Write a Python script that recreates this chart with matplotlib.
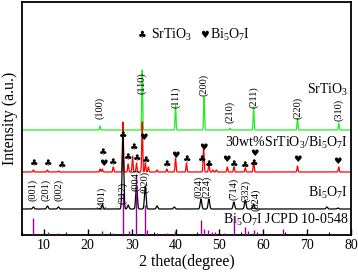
import numpy as np
import matplotlib
matplotlib.use("Agg")
import matplotlib.pyplot as plt

plt.rcParams['font.family'] = ['Liberation Serif', 'DejaVu Sans']
plt.rcParams['mathtext.fontset'] = 'custom'
plt.rcParams['mathtext.rm'] = 'Liberation Serif'
plt.rcParams['mathtext.it'] = 'Liberation Serif:italic'

# SrTiO3 pattern (green)
sto_pos = [22.8, 32.4, 40.0, 46.5, 52.4, 57.8, 67.8, 77.2]
sto_int = [4, 60, 25, 33, 2, 23, 12, 7]
sto_hkl = ['(100)', '(110)', '(111)', '(200)', '(210)', '(211)', '(220)', '(310)']
sto_lab_y = [127, 152, 138, 150, 123, 138, 127, 125]

# 30wt% SrTiO3/Bi5O7I pattern (red)
comp_pos = [7.6, 10.8, 13.3, 22.8, 23.3, 25.8, 28.0, 29.2, 30.2, 31.1, 32.4, 33.1,
            33.8, 35.8, 38.0, 40.0, 42.5, 46.4, 47.6, 48.5, 49.3, 51.8, 53.3, 55.9,
            57.8, 67.8, 77.2]
comp_int = [2, 2, 1, 3, 3, 5, 50, 8, 16, 9, 50, 9,
            5, 2, 3, 14, 9, 25, 8, 2, 2, 5, 5, 4,
            10, 6, 5]

# Bi5O7I pattern (black)
bi_pos = [7.6, 10.8, 13.3, 23.3, 28.0, 29.2, 31.1, 33.1, 35.8, 39.7, 45.8, 47.6,
          53.3, 55.9, 57.8, 74.5, 77.0]
bi_int = [2, 3, 2, 4, 72, 4, 23, 23, 3, 2, 10, 10,
          7, 9, 5, 2, 1]
bi_hkl = ['(001)', '(201)', '(002)', '(401)', '(312)', '(004)', '(020)',
          '(024)', '(224)', '(714)', '(332)', '(624)']
bi_lab_x = [7.5, 10.3, 13.3, 23.1, 28.0, 31.0, 33.0, 45.3, 47.2, 53.2, 55.9, 58.2]
bi_lab_y = [45, 45, 45, 37, 42, 55, 53, 48, 48, 46, 44, 35]

# JCPDS 10-0548 sticks (purple)
ref_pos = [7.6, 10.9, 13.3, 15.3, 23.3, 25.8, 28.1, 29.3, 31.1, 33.1, 33.6, 35.8,
           38.0, 39.8, 45.8, 46.6, 47.5, 48.3, 49.0, 51.0, 53.4, 55.8, 56.6, 57.8,
           58.6, 64.6]
ref_int = [17, 3, 2, 1, 4, 2, 42, 4, 60, 30, 5, 2,
           2, 4, 15, 6, 5, 3, 3, 2, 18, 8, 4, 5,
           3, 6]

# phase markers on the composite pattern
mark_sym = ['c', 'c', 'c', 'c', 'h', 'c', 'c', 'c', 'c', 'c', 'h', 'c', 'c', 'h',
            'c', 'h', 'c', 'c', 'h', 'c', 'c', 'h', 'c', 'h', 'h']
mark_x = [7.7, 10.9, 14.1, 23.5, 23.5, 25.7, 28.0, 29.2, 30.5, 31.2, 32.6, 33.3,
          38.1, 39.9, 42.6, 46.3, 46.0, 47.6, 51.6, 53.3, 55.8, 57.9, 58.0, 67.7, 76.8]
mark_y = [71, 71, 69, 82, 71, 72, 99, 77, 87, 76, 98, 74,
          70, 79, 75, 88, 75, 70, 76, 70, 69, 81, 71, 76, 73]

offsets = {'sto': 105, 'comp': 63, 'bi': 26}

x = np.linspace(5, 80, 4000)


def pattern(pos, inten, width):
    y = np.zeros_like(x)
    for p, h in zip(pos, inten):
        y += h * np.exp(-0.5 * ((x - p) / width) ** 2)
    return y


fig = plt.figure(figsize=(3.58, 2.77), dpi=100)
ax = fig.add_axes([22 / 358, 42 / 277, 329 / 358, 233 / 277])

ax.plot(x, offsets['sto'] + pattern(sto_pos, sto_int, 0.1), color='#22ee22', lw=0.9, zorder=1)
ax.plot(x, offsets['comp'] + pattern(comp_pos, comp_int, 0.11), color='#ff0000', lw=0.9, zorder=2)
ax.plot(x, offsets['bi'] + pattern(bi_pos, bi_int, 0.18), color='black', lw=0.9, zorder=3)
ax.vlines(ref_pos, 0, ref_int, color='#990099', lw=1.0, zorder=4)

for p, lab, ly in zip(sto_pos, sto_hkl, sto_lab_y):
    ax.text(p, ly, lab, rotation=90, ha='center', va='center', fontsize=7.5, zorder=5)
for lx, lab, ly in zip(bi_lab_x, bi_hkl, bi_lab_y):
    ax.text(lx, ly, lab, rotation=90, ha='center', va='center', fontsize=7.5, zorder=5)

sym = {'c': '\u2663', 'h': '\u2665'}
for s, mx, my in zip(mark_sym, mark_x, mark_y):
    ax.text(mx, my, sym[s], ha='center', va='center', fontsize=6.8,
            family=['DejaVu Sans'], zorder=6)

# legend
ax.text(32.3, 200, sym['c'], ha='center', va='center', fontsize=7, family=['DejaVu Sans'])
ax.text(34.3, 200, 'SrTiO$_3$', ha='left', va='center', fontsize=10)
ax.text(46.5, 200, sym['h'], ha='center', va='center', fontsize=7, family=['DejaVu Sans'])
ax.text(47.9, 200, 'Bi$_5$O$_7$I', ha='left', va='center', fontsize=10)

ax.text(79.3, 145, 'SrTiO$_3$', ha='right', va='center', fontsize=10)
ax.text(79.3, 92, '30wt%SrTiO$_3$/Bi$_5$O$_7$I', ha='right', va='center', fontsize=10)
ax.text(79.3, 42, 'Bi$_5$O$_7$I', ha='right', va='center', fontsize=10)
ax.text(79.3, 15, 'Bi$_5$O$_7$I JCPD 10-0548', ha='right', va='center', fontsize=10)

ax.set_xlim(5, 80)
ax.set_ylim(0, 233)
ax.set_xticks(range(10, 81, 10))
ax.set_xticks(range(5, 81, 5), minor=True)
ax.set_yticks([])
ax.tick_params(axis='x', which='major', direction='in', length=4, width=1, labelsize=10, pad=3)
ax.tick_params(axis='x', which='minor', direction='in', length=2, width=0.8)
for sp in ax.spines.values():
    sp.set_linewidth(1.3)

ax.set_xlabel('2 theta(degree)', fontsize=11.5, labelpad=1)
ax.set_ylabel('Intensity (a.u.)', fontsize=11.5, labelpad=3)

fig.savefig('out.png', dpi=100)
